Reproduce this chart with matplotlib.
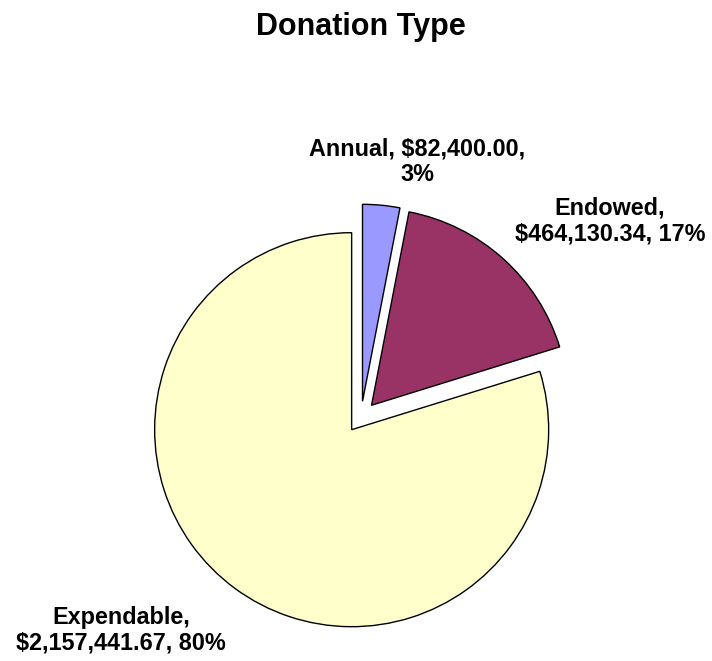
import matplotlib
matplotlib.use('Agg')
import matplotlib.pyplot as plt
import numpy as np

plt.rcParams['font.family'] = ['Liberation Sans', 'DejaVu Sans']

# data
names = ['Annual', 'Endowed', 'Expendable']
amounts = [82400.00, 464130.34, 2157441.67]
colors = ['#9999FF', '#993366', '#FFFFCC']
# where the data label line breaks
breaks = [2, 1, 1]

W, H = 712, 661
R = 197.0          # pie radius in px
cx, cy = 361, 417  # pie centre in px (from top)

fig = plt.figure(figsize=(W / 100, H / 100), dpi=100)
ax = fig.add_axes([0, 0, 1, 1])

ax.pie(amounts, colors=colors, startangle=90, counterclock=False,
       explode=[0.08] * 3, radius=1.0,
       wedgeprops=dict(edgecolor='black', linewidth=1.0))

ax.set_xlim(-cx / R, (W - cx) / R)
ax.set_ylim(-(H - cy) / R, cy / R)
ax.set_aspect('auto')
ax.axis('off')

total = sum(amounts)
# label centres (data units)
label_pos = [(0.284, 1.294), (1.264, 0.995), (-1.218, -1.081)]
for name, amt, br, (lx, ly) in zip(names, amounts, breaks, label_pos):
    parts = [f'{name},', f'${amt:,.2f},', f'{amt / total * 100:.0f}%']
    txt = ' '.join(parts[:br]) + '\n' + ' '.join(parts[br:])
    ax.text(lx, ly, txt, ha='center', va='center', fontsize=16.8,
            fontweight='bold', linespacing=1.15, multialignment='center')

fig.text(cx / W, 1 - 35 / H, 'Donation Type', ha='center', va='baseline',
         fontsize=22, fontweight='bold')

plt.savefig('out.png', dpi=100)
